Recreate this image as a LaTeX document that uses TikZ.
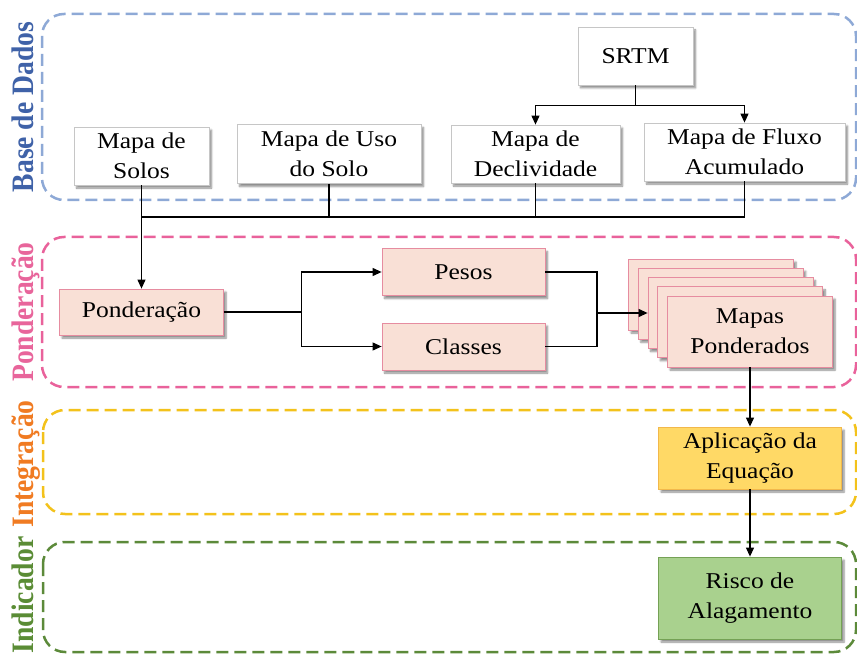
\documentclass[tikz,border=0pt]{standalone}
\usepackage{fontspec}
\setmainfont{Liberation Serif}[FakeStretch=1.13]
\newfontfamily\rotulofont{Liberation Serif}[FakeStretch=0.885]
\usetikzlibrary{arrows.meta,shadows.blur}
\definecolor{azulgrupo}{HTML}{8EA9D6}
\definecolor{azultexto}{HTML}{3F62A8}
\definecolor{rosagrupo}{HTML}{E9629B}
\definecolor{rosatexto}{HTML}{E8659B}
\definecolor{rosafundo}{HTML}{F9E0D6}
\definecolor{rosaborda}{HTML}{E68CA0}
\definecolor{amarelogrupo}{HTML}{F3C21B}
\definecolor{laranjatexto}{HTML}{F07B22}
\definecolor{amarelofundo}{HTML}{FFD966}
\definecolor{amareloborda}{HTML}{F2B84B}
\definecolor{verdegrupo}{HTML}{5C8A3A}
\definecolor{verdetexto}{HTML}{5A8C35}
\definecolor{verdefundo}{HTML}{A9D18E}
\definecolor{verdeborda}{HTML}{75A155}
\tikzset{
  caixa/.style={draw=gray!45, fill=white, line width=0.8pt, inner sep=0pt, align=center,
    font=\fontsize{22.6}{30}\selectfont,
    blur shadow={shadow xshift=2.5pt, shadow yshift=-3pt, shadow blur steps=6, shadow opacity=45}},
  caixapond/.style={caixa, draw=rosaborda, fill=rosafundo},
  grupo/.style={dash pattern=on 12pt off 6pt, line width=2.5pt, rounded corners=22pt},
  rotulo/.style={rotate=90, anchor=base, font=\rotulofont\bfseries\fontsize{31.2}{32}\selectfont},
  seta/.style={-{Triangle[length=9pt,width=8pt]}}
}
\begin{document}
\begin{tikzpicture}[x=1pt,y=-1pt,line width=1.1pt]
\useasboundingbox (0,0) rectangle (857,655);
\draw[grupo,azulgrupo] (42,14) rectangle (856,200);
\draw[grupo,rosagrupo] (42,237) rectangle (856,387);
\draw[grupo,amarelogrupo] (43,410) rectangle (856,514);
\draw[grupo,verdegrupo] (43,542) rectangle (856,652);
\node[rotulo,azultexto] (lbase) at (33,107) {Base de Dados};
\node[rotulo,rosatexto] (lpond) at (33,312) {Ponderação};
\node[rotulo,laranjatexto] (linteg) at (33,464) {Integração};
\node[rotulo,verdetexto] (lindic) at (33,595) {Indicador};

\node[caixa, minimum width=115pt, minimum height=58pt] (srtm) at (635.5,56) {SRTM};
\node[caixa, minimum width=135pt, minimum height=58pt] (solos) at (141.5,156) {Mapa de\\Solos};
\node[caixa, minimum width=184pt, minimum height=59pt] (uso) at (329,154) {Mapa de Uso\\do Solo};
\node[caixa, minimum width=169pt, minimum height=58pt] (decl) at (535.5,154) {Mapa de\\Declividade};
\node[caixa, minimum width=201pt, minimum height=58pt] (fluxo) at (744.5,152) {Mapa de Fluxo\\Acumulado};

\node[caixapond, minimum width=164pt, minimum height=46pt] (pond) at (141.5,312) {Ponderação};
\node[caixapond, minimum width=163pt, minimum height=47pt] (pesos) at (463.5,272) {Pesos};
\node[caixapond, minimum width=163pt, minimum height=47pt] (classes) at (463.5,346.5) {Classes};
\foreach\k in {4,3,2,1}
  \node[caixapond, minimum width=165pt, minimum height=71pt] (m\k) at ({750-9.75*\k},{331.5-9.25*\k}) {};
\node[caixapond, minimum width=165pt, minimum height=71pt] (mapas) at (750,331.5) {Mapas\\Ponderados};

\node[caixa, draw=amareloborda, fill=amarelofundo, minimum width=183pt, minimum height=62pt] (aplic) at (750,458) {Aplicação da\\Equação};
\node[caixa, draw=verdeborda, fill=verdefundo, minimum width=183pt, minimum height=82pt] (risco) at (750,598) {Risco de\\Alagamento};

\coordinate (junta) at (141.5,217);
\coordinate (juntb) at (597,313);
\foreach\i in {decl,fluxo}\draw[seta] (srtm.south) -- ++(0,20) -| (\i.north);
\foreach\i in {uso,decl,fluxo}\draw (\i.south) |- (junta);
\draw[seta] (solos.south) -- (pond.north);
\foreach\i in {pesos,classes}\draw[seta] (pond.east) -- ++(78,0) |- (\i.west);
\foreach\i in {pesos,classes}\draw (\i.east) -| (juntb);
\draw[seta] (juntb) -- (m2.west);
\draw[seta] (mapas.south) -- (aplic.north);
\draw[seta] (aplic.south) -- (risco.north);
\end{tikzpicture}
\end{document}
